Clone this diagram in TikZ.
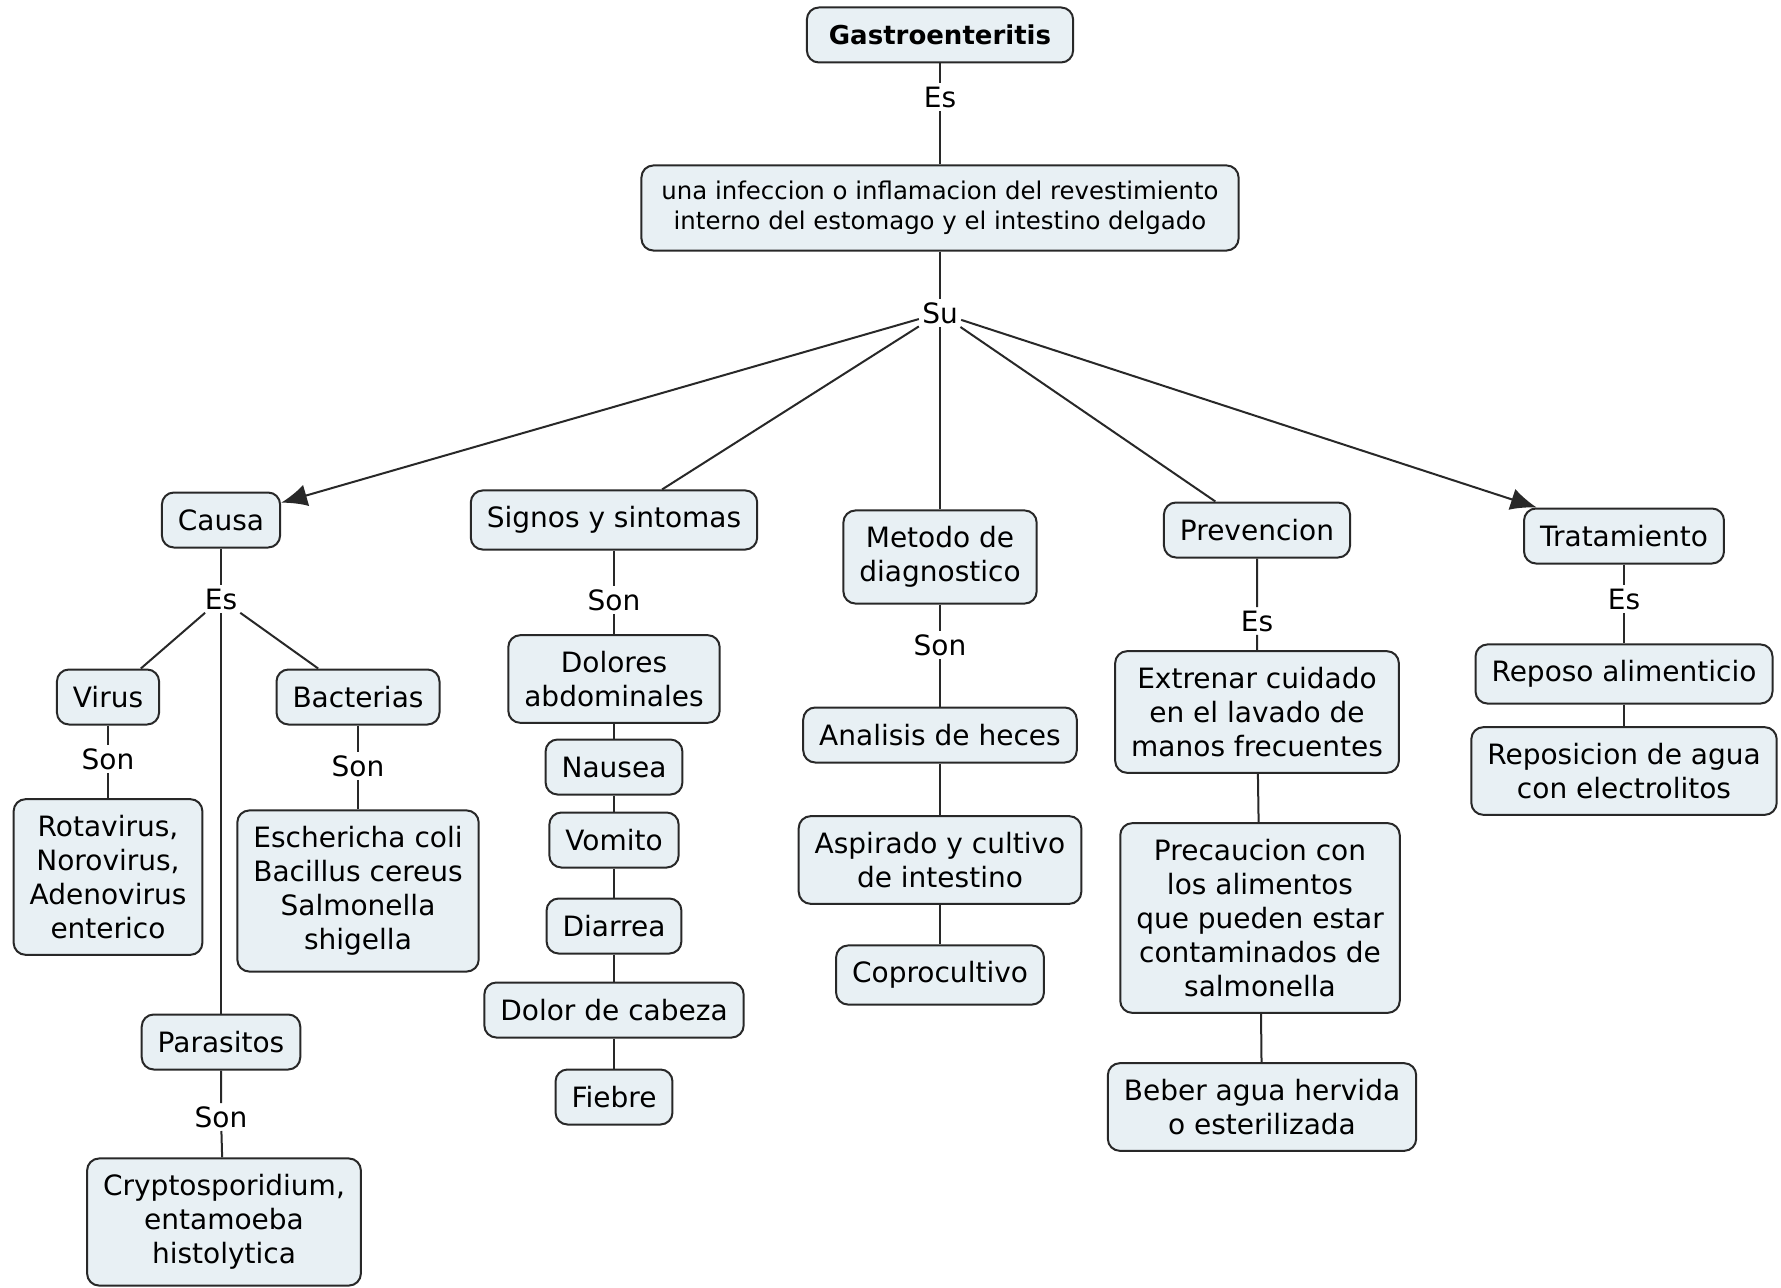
\documentclass[tikz,border=0pt]{standalone}
\usepackage{fontspec}
\setmainfont{DejaVu Sans}
\usetikzlibrary{arrows.meta,positioning}
\definecolor{boxfill}{RGB}{232,240,244}
\definecolor{boxline}{RGB}{40,40,40}

\begin{document}
\begin{tikzpicture}[x=0.5pt,y=-0.5pt,on grid,
        every node/.style={font=\fontsize{14}{17}\selectfont},
        concept/.style={draw=boxline,fill=boxfill,rounded corners=6pt,line width=1pt,
                        align=center,inner xsep=8pt,inner ysep=8pt,minimum height=27.5pt},
        link/.style={inner sep=1.5pt},
        conn/.style={draw=boxline,line width=1pt}]
   \useasboundingbox (0,0) rectangle (1781,1288);

   \node[concept,font=\fontsize{13}{16}\selectfont\bfseries,inner xsep=11pt] (gastro) at (940,35) {Gastroenteritis};
   \node[link] (es) [below=31pt of gastro] {Es};
   \node[concept,font=\fontsize{12.2}{14.75}\selectfont,inner xsep=10pt,inner ysep=8pt] (def) [below=55.5pt of es]
        {una infeccion o inflamacion del revestimiento\\interno del estomago y el intestino delgado};
   \node[link] (su) [below=52.5pt of def] {Su};

   \node[concept] (causa) at (221,520) {Causa};
   \node[concept] (signos) at (614,520) {Signos y sintomas};
   \node[concept] (metodo) at (940,557) {Metodo de\\diagnostico};
   \node[concept] (prevencion) at (1257,530) {Prevencion};
   \node[concept] (tratamiento) at (1624,536) {Tratamiento};

   % causa
   \node[link] (causaes) [below=39.5pt of causa] {Es};
   \node[concept] (virus) at (108,697) {Virus};
   \node[concept] (bacterias) at (358,697) {Bacterias};
   \node[concept] (parasitos) at (221,1042) {Parasitos};
   \node[link] (virusson) [below=31pt of virus] {Son};
   \node[concept] (viruslist) [below=59pt of virusson] {Rotavirus,\\Norovirus,\\Adenovirus\\enterico};
   \node[link] (bactson) [below=34.5pt of bacterias] {Son};
   \node[concept] (bactlist) [below=62.5pt of bactson] {Eschericha coli\\Bacillus cereus\\Salmonella\\shigella};
   \node[link] (parson) [below=37.5pt of parasitos] {Son};
   \node[concept] (parlist) at (224,1222) {Cryptosporidium,\\entamoeba\\histolytica};

   % signos
   \node[link] (signosson) [below=40pt of signos] {Son};
   \node[concept] (dolores) [below=39.5pt of signosson] {Dolores\\abdominales};
   \node[concept] (nausea) [below=44pt of dolores] {Nausea};
   \node[concept] (vomito) [below=36.5pt of nausea] {Vomito};
   \node[concept] (diarrea) [below=43pt of vomito] {Diarrea};
   \node[concept] (cabeza) [below=42pt of diarrea] {Dolor de cabeza};
   \node[concept] (fiebre) [below=43.5pt of cabeza] {Fiebre};

   % metodo
   \node[link] (metodoson) [below=44pt of metodo] {Son};
   \node[concept] (heces) [below=45pt of metodoson] {Analisis de heces};
   \node[concept] (aspirado) [below=62.5pt of heces] {Aspirado y cultivo\\de intestino};
   \node[concept] (copro) [below=57.5pt of aspirado] {Coprocultivo};

   % prevencion
   \node[link] (prevencioes) [below=45.5pt of prevencion] {Es};
   \node[concept] (lavado) [below=45.5pt of prevencioes] {Extrenar cuidado\\en el lavado de\\manos frecuentes};
   \node[concept] (precaucion) at (1260,918) {Precaucion con\\los alimentos\\que pueden estar\\contaminados de\\salmonella};
   \node[concept] (agua) at (1262,1107) {Beber agua hervida\\o esterilizada};

   % tratamiento
   \node[link] (tratames) [below=31.5pt of tratamiento] {Es};
   \node[concept] (reposo) [below=37.5pt of tratames] {Reposo alimenticio};
   \node[concept] (reposicion) [below=48.5pt of reposo] {Reposicion de agua\\con electrolitos};

   \draw[conn] (gastro) -- (es) -- (def) -- (su);
   \draw[conn,-{Latex[length=13pt,width=11pt]}] (su) -- (causa);
   \draw[conn] (su) -- (signos);
   \draw[conn] (su) -- (metodo);
   \draw[conn] (su) -- (prevencion);
   \draw[conn,-{Latex[length=13pt,width=11pt]}] (su) -- (tratamiento);

   \draw[conn] (causa) -- (causaes);
   \draw[conn] (causaes) -- (virus);
   \draw[conn] (causaes) -- (bacterias);
   \draw[conn] (causaes) -- (parasitos);
   \draw[conn] (virus) -- (virusson) -- (viruslist);
   \draw[conn] (bacterias) -- (bactson) -- (bactlist);
   \draw[conn] (parasitos) -- (parson) -- (parlist);

   \draw[conn] (signos) -- (signosson) -- (dolores) -- (nausea) -- (vomito) -- (diarrea) -- (cabeza) -- (fiebre);
   \draw[conn] (metodo) -- (metodoson) -- (heces) -- (aspirado) -- (copro);
   \draw[conn] (prevencion) -- (prevencioes) -- (lavado) -- (precaucion) -- (agua);
   \draw[conn] (tratamiento) -- (tratames) -- (reposo) -- (reposicion);

\end{tikzpicture}
\end{document}
